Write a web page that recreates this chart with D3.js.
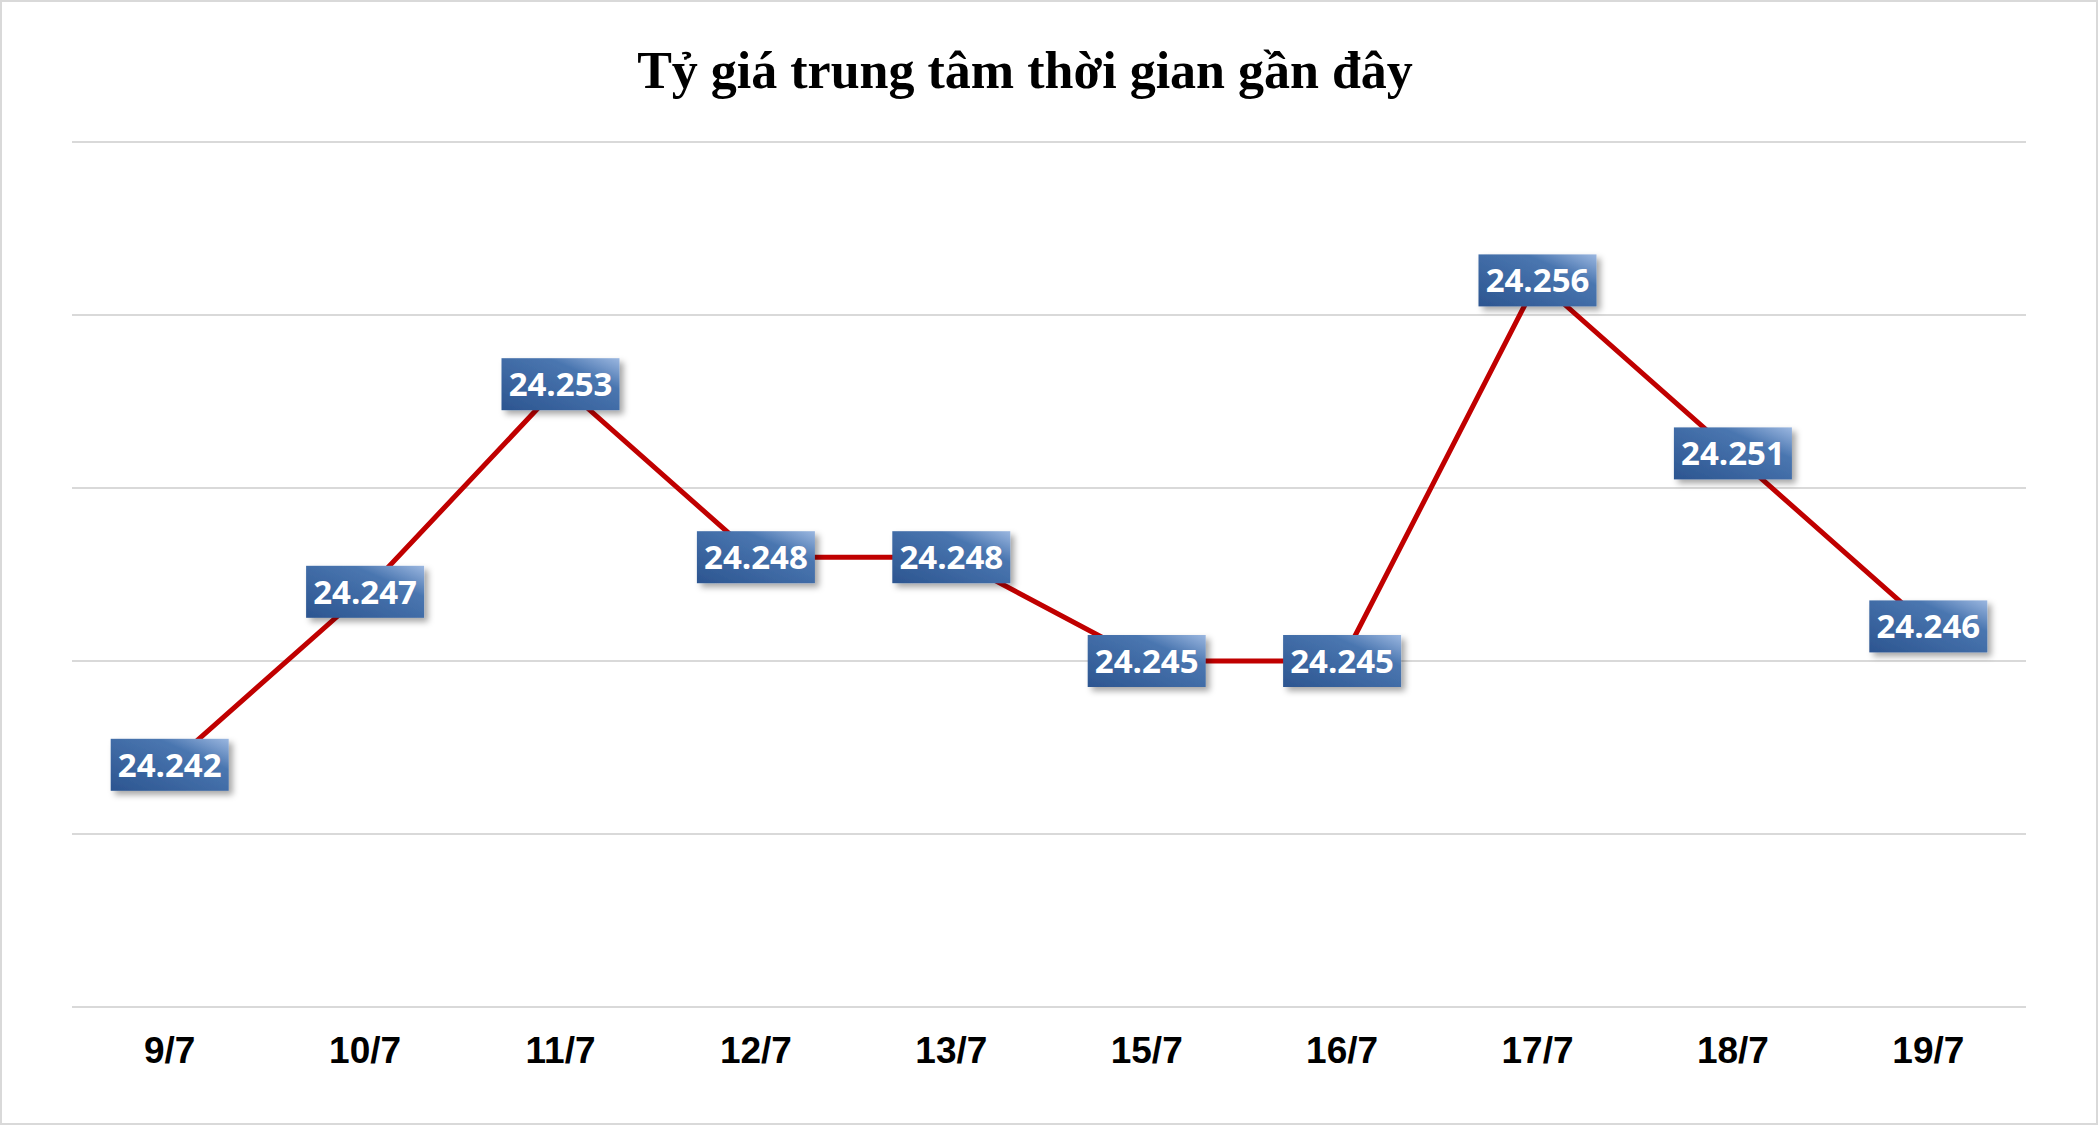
<!DOCTYPE html>
<html><head><meta charset="utf-8">
<script src="https://cdn.jsdelivr.net/npm/d3@7"></script>
<style>body{margin:0;background:#fff}</style>
</head><body>
<svg id="chart" width="2098" height="1125"></svg>
<script>
var days = ["9/7","10/7","11/7","12/7","13/7","15/7","16/7","17/7","18/7","19/7"];
var rates = [24.242,24.247,24.253,24.248,24.248,24.245,24.245,24.256,24.251,24.246];
var yTicks = [24.235,24.240,24.245,24.250,24.255,24.260];

var svg = d3.select("#chart");
svg.append("rect").attr("x",1).attr("y",1).attr("width",2096).attr("height",1123)
  .attr("fill","#fff").attr("stroke","#d9d9d9").attr("stroke-width",2);

var x = d3.scaleBand().domain(days).range([72, 2026]);
var y = d3.scaleLinear().domain([24.235, 24.260]).range([1007, 142]);

var defs = svg.append("defs");
var g = defs.append("linearGradient").attr("id","boxg")
  .attr("x1","0%").attr("y1","100%").attr("x2","100%").attr("y2","0%");
g.append("stop").attr("offset","0%").attr("stop-color","#2c5590");
g.append("stop").attr("offset","70%").attr("stop-color","#4a76b0");
g.append("stop").attr("offset","100%").attr("stop-color","#9bb7e0");
var f = defs.append("filter").attr("id","sh").attr("x","-20%").attr("y","-20%").attr("width","150%").attr("height","160%");
f.append("feDropShadow").attr("dx",4).attr("dy",4).attr("stdDeviation",3).attr("flood-color","#000").attr("flood-opacity",0.35);

svg.append("text").attr("x",1025).attr("y",88).attr("text-anchor","middle")
  .attr("font-family","Liberation Serif, serif").attr("font-weight","bold").attr("font-size",52)
  .text("Tỷ giá trung tâm thời gian gần đây");

svg.selectAll(".grid").data(yTicks).enter().append("line")
  .attr("x1",72).attr("x2",2026).attr("y1",d=>y(d)).attr("y2",d=>y(d))
  .attr("stroke","#d9d9d9").attr("stroke-width",2);

var xa = svg.append("g").attr("transform","translate(0,1007)").call(d3.axisBottom(x).tickSize(0).tickPadding(30));
xa.select(".domain").remove();
xa.selectAll("text").attr("font-family","Liberation Sans, Arial, sans-serif").attr("font-weight","bold")
  .attr("font-size",37).attr("fill","#000");

var cx = d => x(d) + x.bandwidth()/2;
svg.append("path").datum(rates)
  .attr("d", d3.line().x((d,i)=>cx(days[i])).y(d=>y(d)))
  .attr("fill","none").attr("stroke","#c00000").attr("stroke-width",5);

var lab = svg.selectAll(".lab").data(rates).enter().append("g")
  .attr("transform",(d,i)=>"translate("+cx(days[i])+","+y(d)+")");
lab.append("rect").attr("x",-59).attr("y",-26).attr("width",118).attr("height",52)
  .attr("fill","url(#boxg)").attr("filter","url(#sh)");
lab.append("text").attr("text-anchor","middle").attr("dy","0.36em")
  .attr("font-family","Open Sans, sans-serif").attr("font-weight","bold").attr("font-size",33)
  .attr("fill","#fff").text(d=>d.toFixed(3));
</script>
</body></html>
